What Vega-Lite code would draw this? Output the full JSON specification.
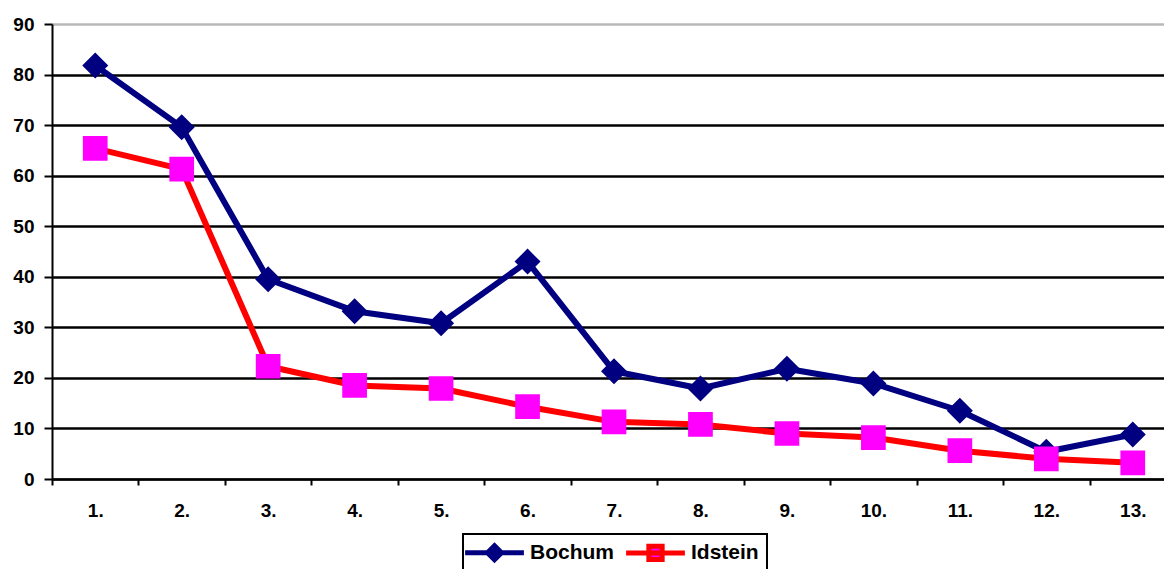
{
  "$schema": "https://vega.github.io/schema/vega-lite/v6.json",
  "width": 1124,
  "height": 455,
  "autosize": {"type": "none"},
  "padding": {"left": 52, "top": 24, "right": 0, "bottom": 90},
  "background": "white",
  "data": {
    "values": [
      {"pos": "1.", "series": "Bochum", "value": 81.8},
      {"pos": "2.", "series": "Bochum", "value": 69.6},
      {"pos": "3.", "series": "Bochum", "value": 39.5},
      {"pos": "4.", "series": "Bochum", "value": 33.2},
      {"pos": "5.", "series": "Bochum", "value": 30.8},
      {"pos": "6.", "series": "Bochum", "value": 43.0},
      {"pos": "7.", "series": "Bochum", "value": 21.3},
      {"pos": "8.", "series": "Bochum", "value": 17.9},
      {"pos": "9.", "series": "Bochum", "value": 21.8},
      {"pos": "10.", "series": "Bochum", "value": 18.9},
      {"pos": "11.", "series": "Bochum", "value": 13.5},
      {"pos": "12.", "series": "Bochum", "value": 5.4},
      {"pos": "13.", "series": "Bochum", "value": 8.8},
      {"pos": "1.", "series": "Idstein", "value": 65.4},
      {"pos": "2.", "series": "Idstein", "value": 61.3},
      {"pos": "3.", "series": "Idstein", "value": 22.3},
      {"pos": "4.", "series": "Idstein", "value": 18.5},
      {"pos": "5.", "series": "Idstein", "value": 17.9},
      {"pos": "6.", "series": "Idstein", "value": 14.3},
      {"pos": "7.", "series": "Idstein", "value": 11.3},
      {"pos": "8.", "series": "Idstein", "value": 10.8},
      {"pos": "9.", "series": "Idstein", "value": 9.0},
      {"pos": "10.", "series": "Idstein", "value": 8.2},
      {"pos": "11.", "series": "Idstein", "value": 5.6},
      {"pos": "12.", "series": "Idstein", "value": 4.0},
      {"pos": "13.", "series": "Idstein", "value": 3.2}
    ]
  },
  "encoding": {
    "x": {
      "field": "pos",
      "type": "nominal",
      "sort": ["1.", "2.", "3.", "4.", "5.", "6.", "7.", "8.", "9.", "10.", "11.", "12.", "13."],
      "scale": {"paddingInner": 0, "paddingOuter": 0},
      "axis": {
        "title": null,
        "labelAngle": 0,
        "tickBand": "extent",
        "tickSize": 6,
        "tickWidth": 2,
        "tickColor": "black",
        "domainColor": "black",
        "domainWidth": 2,
        "labelPadding": 16,
        "labelFont": "Liberation Sans",
        "labelFontWeight": "bold",
        "labelFontSize": 19,
        "labelColor": "black",
        "grid": false
      }
    },
    "y": {
      "field": "value",
      "type": "quantitative",
      "scale": {"domain": [0, 90], "nice": false, "zero": true},
      "axis": {
        "title": null,
        "values": [0, 10, 20, 30, 40, 50, 60, 70, 80, 90],
        "tickSize": 8,
        "tickWidth": 2,
        "tickColor": "black",
        "domainColor": "black",
        "domainWidth": 2,
        "labelPadding": 10,
        "labelFont": "Liberation Sans",
        "labelFontWeight": "bold",
        "labelFontSize": 19,
        "labelColor": "black",
        "grid": true,
        "gridWidth": 2.5,
        "gridColor": {"condition": {"test": "datum.value === 90", "value": "#b8b8b8"}, "value": "black"}
      }
    }
  },
  "layer": [
    {
      "mark": {"type": "line", "strokeWidth": 6, "strokeJoin": "round", "strokeCap": "round"},
      "encoding": {
        "stroke": {
          "field": "series",
          "type": "nominal",
          "scale": {"domain": ["Bochum", "Idstein"], "range": ["#000080", "#ff0000"]},
          "legend": {"title": null}
        }
      }
    },
    {
      "mark": {"type": "point", "filled": true, "opacity": 1, "strokeWidth": 0, "size": 676},
      "encoding": {
        "fill": {
          "field": "series",
          "type": "nominal",
          "scale": {"domain": ["Bochum", "Idstein"], "range": ["#000080", "#ff00ff"]},
          "legend": {"title": null}
        },
        "shape": {
          "field": "series",
          "type": "nominal",
          "scale": {
            "domain": ["Bochum", "Idstein"],
            "range": [
              "M-4.2,0H4.2M0,-1L1,0L0,1L-1,0Z",
              "M-4.2,0H4.2M-0.95,-0.95H0.95V0.95H-0.95Z"
            ]
          },
          "legend": {"title": null}
        }
      }
    }
  ],
  "config": {
    "view": {"stroke": null},
    "legend": {
      "orient": "none",
      "legendX": 411,
      "legendY": 510,
      "direction": "horizontal",
      "symbolSize": 196,
      "symbolStrokeWidth": 5,
      "symbolOffset": 13,
      "labelFont": "Liberation Sans",
      "labelFontWeight": "bold",
      "labelFontSize": 21,
      "labelColor": "black",
      "labelOffset": 25,
      "columnPadding": 2,
      "strokeColor": "black",
      "strokeWidth": 2,
      "padding": 8
    }
  }
}
